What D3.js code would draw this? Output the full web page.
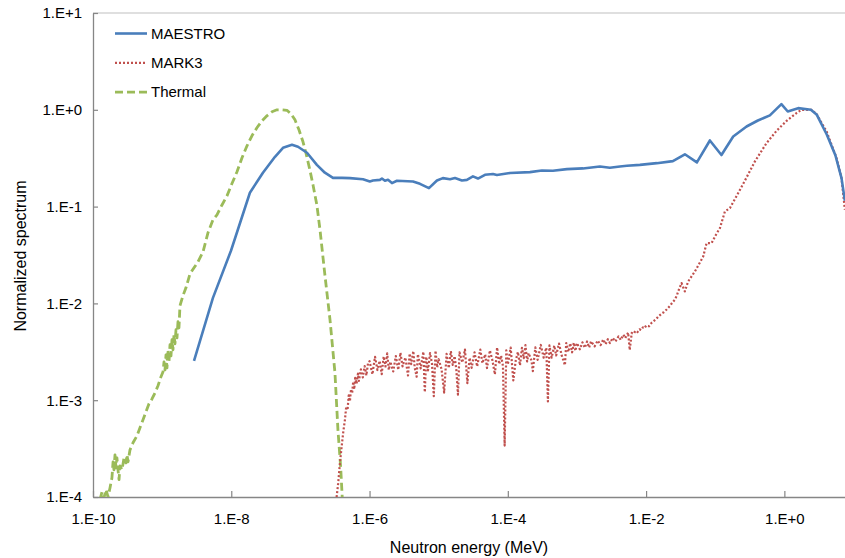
<!DOCTYPE html>
<html>
<head>
<meta charset="utf-8">
<script src="https://cdn.jsdelivr.net/npm/d3@7"></script>
<style>
  html, body { margin: 0; padding: 0; background: #fff; }
  svg { display: block; }
  text { font-family: "Liberation Sans", Arial, sans-serif; fill: #000; }
</style>
</head>
<body>
<svg id="chart" width="845" height="558"></svg>
<script>
// Axis ticks (energy in MeV, normalized spectrum)
const xTickValues = [1e-10, 1e-8, 1e-6, 1e-4, 1e-2, 1e0];
const xTickLabels = ["1.E-10", "1.E-8", "1.E-6", "1.E-4", "1.E-2", "1.E+0"];
const yTickValues = [1e-4, 1e-3, 1e-2, 1e-1, 1e0, 1e1];
const yTickLabels = ["1.E-4", "1.E-3", "1.E-2", "1.E-1", "1.E+0", "1.E+1"];

const seriesNames = ["MAESTRO", "MARK3", "Thermal"];

// MAESTRO spectrum: [energy (MeV), normalized value]
const maestro = [
  [2.89e-9, 2.55e-3], [5.43e-9, 1.14e-2], [9.9e-9, 3.5e-2], [1.86e-8, 0.139],
  [2.87e-8, 0.224], [4.29e-8, 0.327], [5.6e-8, 0.405], [7.55e-8, 0.435],
  [9.23e-8, 0.415], [1.245e-7, 0.36], [1.73e-7, 0.27], [2.26e-7, 0.224],
  [2.96e-7, 0.198], [3.99e-7, 0.198], [5.21e-7, 0.197], [8.04e-7, 0.192],
  [1.01e-6, 0.182], [1.12e-6, 0.186], [1.41e-6, 0.189], [1.51e-6, 0.195],
  [1.67e-6, 0.185], [1.85e-6, 0.189], [2.11e-6, 0.175], [2.49e-6, 0.185],
  [4.25e-6, 0.182], [5.36e-6, 0.172], [7.23e-6, 0.155], [9.44e-6, 0.186],
  [1.15e-5, 0.197], [1.46e-5, 0.192], [1.72e-5, 0.197], [2.17e-5, 0.186],
  [2.56e-5, 0.189], [3.13e-5, 0.205], [3.70e-5, 0.195], [4.67e-5, 0.213],
  [6.1e-5, 0.217], [6.95e-5, 0.212], [1.07e-4, 0.222], [2.09e-4, 0.227],
  [3.11e-4, 0.236], [4.49e-4, 0.235], [7.16e-4, 0.244], [1.22e-3, 0.248],
  [2.15e-3, 0.26], [2.99e-3, 0.252], [4.18e-3, 0.26], [5.27e-3, 0.264],
  [8.13e-3, 0.27], [1.43e-2, 0.281], [2.44e-2, 0.295], [3.64e-2, 0.347],
  [5.43e-2, 0.286], [8.37e-2, 0.482], [0.123, 0.341], [0.182, 0.53],
  [0.284, 0.672], [0.414, 0.775], [0.617, 0.877], [0.906, 1.145],
  [1.12, 0.96], [1.58, 1.04], [2.42, 1.0], [2.95, 0.888],
  [4.12, 0.552], [5.47, 0.339], [6.71, 0.197], [7.5, 0.115]
];

// MARK3 spectrum: [energy (MeV), normalized value]
const mark3 = [
  [3.34e-7, 1.0e-4], [3.52e-7, 1.39e-4], [3.73e-7, 2.24e-4], [3.95e-7, 3.33e-4],
  [4.17e-7, 4.72e-4], [4.41e-7, 6.3e-4], [4.6e-7, 8.6e-4], [4.8e-7, 7.9e-4],
  [5.0e-7, 1.12e-3], [5.2e-7, 0.98e-3], [5.4e-7, 1.30e-3], [5.6e-7, 1.18e-3],
  [5.8e-7, 1.55e-3], [6.0e-7, 1.30e-3], [6.2e-7, 1.70e-3], [6.5e-7, 1.48e-3],
  [6.8e-7, 1.88e-3], [7.0e-7, 1.58e-3], [7.5e-7, 2.08e-3], [8.0e-7, 1.72e-3],
  [8.5e-7, 2.25e-3], [9.0e-7, 1.80e-3], [9.5e-7, 2.40e-3],
  [1.0e-6, 2.53e-3], [1.1e-6, 1.85e-3], [1.2e-6, 2.81e-3], [1.3e-6, 2.05e-3],
  [1.4e-6, 2.55e-3], [1.5e-6, 1.86e-3], [1.6e-6, 2.83e-3], [1.7e-6, 2.23e-3],
  [1.8e-6, 3.04e-3], [1.9e-6, 2.05e-3], [2.0e-6, 2.50e-3], [2.2e-6, 1.98e-3],
  [2.4e-6, 2.86e-3], [2.6e-6, 2.06e-3], [2.8e-6, 3.09e-3], [3.0e-6, 2.24e-3],
  [3.3e-6, 2.76e-3], [3.6e-6, 1.80e-3], [3.8e-6, 3.03e-3], [4.0e-6, 2.36e-3],
  [4.3e-6, 3.22e-3], [4.5e-6, 2.17e-3], [4.8e-6, 1.75e-3], [5.0e-6, 2.99e-3],
  [5.5e-6, 2.13e-3], [6.0e-6, 3.17e-3], [6.3e-6, 1.21e-3], [6.6e-6, 2.81e-3],
  [7.0e-6, 2.03e-3], [7.5e-6, 3.07e-3], [8.0e-6, 2.39e-3], [8.5e-6, 1.10e-3],
  [9.0e-6, 3.25e-3], [9.5e-6, 2.18e-3], [1.0e-5, 2.65e-3], [1.1e-5, 2.09e-3],
  [1.2e-5, 1.20e-3], [1.3e-5, 3.01e-3], [1.4e-5, 2.15e-3], [1.5e-5, 3.21e-3],
  [1.6e-5, 2.31e-3], [1.7e-5, 2.85e-3], [1.8e-5, 2.06e-3], [1.9e-5, 1.14e-3],
  [2.0e-5, 3.13e-3], [2.2e-5, 2.45e-3], [2.4e-5, 3.34e-3], [2.6e-5, 1.50e-3],
  [2.8e-5, 2.74e-3], [3.0e-5, 2.16e-3], [3.3e-5, 3.12e-3], [3.6e-5, 2.23e-3],
  [4.0e-5, 3.33e-3], [4.3e-5, 2.41e-3], [4.7e-5, 2.97e-3], [5.0e-5, 2.15e-3],
  [5.5e-5, 3.27e-3], [6.0e-5, 2.56e-3], [6.5e-5, 1.85e-3], [7.0e-5, 3.50e-3],
  [7.5e-5, 2.36e-3], [8.0e-5, 2.88e-3], [8.5e-5, 2.26e-3], [9.0e-5, 3.4e-4],
  [9.5e-5, 3.27e-3], [1.0e-4, 2.34e-3], [1.1e-4, 3.50e-3], [1.2e-4, 1.60e-3],
  [1.3e-4, 2.55e-3], [1.4e-4, 3.15e-3], [1.5e-4, 2.29e-3], [1.6e-4, 3.48e-3],
  [1.7e-4, 2.72e-3], [1.8e-4, 3.71e-3], [1.9e-4, 2.51e-3], [2.0e-4, 3.06e-3],
  [2.2e-4, 2.57e-3], [2.3e-4, 2.00e-3], [2.5e-4, 3.51e-3], [2.7e-4, 2.61e-3],
  [3.0e-4, 3.72e-3], [3.3e-4, 2.75e-3], [3.6e-4, 3.48e-3], [3.8e-4, 0.97e-3],
  [4.0e-4, 3.68e-3], [4.3e-4, 2.75e-3], [4.7e-4, 3.66e-3], [5.0e-4, 2.90e-3],
  [5.5e-4, 3.85e-3], [6.0e-4, 2.92e-3], [6.7e-4, 2.30e-3], [7.0e-4, 3.90e-3],
  [7.5e-4, 3.15e-3], [8.0e-4, 3.87e-3], [8.5e-4, 3.12e-3], [9.0e-4, 3.93e-3],
  [9.5e-4, 3.23e-3], [1.0e-3, 3.89e-3], [1.1e-3, 3.36e-3], [1.2e-3, 3.96e-3],
  [1.3e-3, 3.48e-3], [1.4e-3, 4.04e-3], [1.5e-3, 3.50e-3], [1.6e-3, 4.06e-3],
  [1.8e-3, 3.60e-3], [2.0e-3, 4.13e-3], [2.2e-3, 3.71e-3], [2.4e-3, 4.24e-3],
  [2.6e-3, 3.79e-3], [2.8e-3, 4.27e-3], [3.0e-3, 3.90e-3], [3.3e-3, 4.39e-3],
  [3.6e-3, 4.04e-3], [4.0e-3, 4.57e-3], [4.3e-3, 4.20e-3], [4.7e-3, 4.75e-3],
  [5.0e-3, 4.37e-3], [5.5e-3, 4.99e-3], [5.8e-3, 3.30e-3], [6.2e-3, 4.95e-3],
  [6.6e-3, 4.85e-3], [7.0e-3, 5.2e-3], [7.5e-3, 5.05e-3], [8.0e-3, 5.4e-3],
  [8.5e-3, 5.3e-3], [9.0e-3, 5.65e-3], [9.5e-3, 5.55e-3], [1.0e-2, 5.9e-3],
  [1.1e-2, 5.8e-3], [1.2e-2, 6.3e-3], [1.3e-2, 6.6e-3], [1.4e-2, 6.9e-3],
  [1.5e-2, 7.3e-3], [1.6e-2, 7.6e-3], [1.7e-2, 7.9e-3], [1.8e-2, 8.1e-3],
  [2.0e-2, 8.7e-3], [2.2e-2, 9.4e-3], [2.4e-2, 1.02e-2], [2.6e-2, 1.09e-2],
  [2.8e-2, 1.22e-2], [2.91e-2, 1.33e-2], [3.26e-2, 1.62e-2], [3.63e-2, 1.33e-2],
  [4.05e-2, 1.68e-2], [5.08e-2, 2.14e-2], [6.7e-2, 3.05e-2], [7.5e-2, 4.2e-2],
  [8.86e-2, 4.2e-2], [0.105, 5.3e-2], [0.117, 6.0e-2], [0.138, 8.9e-2],
  [0.163, 9.65e-2], [0.215, 0.138], [0.284, 0.200], [0.374, 0.292],
  [0.552, 0.453], [0.771, 0.607], [1.08, 0.770], [1.50, 0.925],
  [1.77, 1.0], [2.47, 1.0], [2.92, 0.903], [4.08, 0.597],
  [5.69, 0.317], [6.71, 0.197], [7.5, 0.093]
];

// Thermal (Maxwellian-like) spectrum: [energy (MeV), normalized value]
const thermal = [
  [1.26e-10, 9.35e-5], [1.35e-10, 1.13e-4], [1.44e-10, 9.8e-5], [1.54e-10, 1.19e-4],
  [1.65e-10, 1.0e-4], [1.76e-10, 1.24e-4], [1.88e-10, 1.58e-4], [1.95e-10, 2.31e-4],
  [2.01e-10, 1.91e-4], [2.08e-10, 2.73e-4], [2.15e-10, 2.0e-4], [2.22e-10, 2.54e-4],
  [2.30e-10, 1.91e-4], [2.38e-10, 1.51e-4], [2.46e-10, 2.10e-4], [2.63e-10, 1.91e-4],
  [2.81e-10, 2.54e-4], [3.00e-10, 2.25e-4], [3.10e-10, 2.73e-4], [3.21e-10, 2.31e-4],
  [3.43e-10, 3.07e-4], [3.79e-10, 3.63e-4], [4.33e-10, 4.29e-4], [4.78e-10, 5.19e-4],
  [5.29e-10, 6.28e-4], [5.84e-10, 7.59e-4], [6.45e-10, 9.18e-4], [7.13e-10, 1.03e-3],
  [7.88e-10, 1.19e-3], [8.71e-10, 1.41e-3], [9.63e-10, 1.75e-3], [1.03e-9, 1.97e-3],
  [1.064e-9, 2.49e-3], [1.10e-9, 2.06e-3], [1.137e-9, 2.94e-3], [1.175e-9, 2.16e-3],
  [1.215e-9, 3.32e-3], [1.256e-9, 2.49e-3], [1.299e-9, 3.74e-3], [1.343e-9, 2.87e-3],
  [1.388e-9, 4.21e-3], [1.435e-9, 3.32e-3], [1.484e-9, 4.74e-3], [1.534e-9, 3.83e-3],
  [1.586e-9, 5.34e-3], [1.64e-9, 4.41e-3], [1.695e-9, 6.46e-3], [1.752e-9, 5.60e-3],
  [1.81e-9, 9.45e-3], [2.0e-9, 1.2e-2], [2.21e-9, 1.45e-2], [2.53e-9, 2.02e-2],
  [2.89e-9, 2.33e-2], [3.30e-9, 2.69e-2], [3.90e-9, 3.41e-2], [4.60e-9, 5.36e-2],
  [5.44e-9, 7.31e-2], [6.21e-9, 8.23e-2], [7.34e-9, 0.104], [8.67e-9, 0.129],
  [1.02e-8, 0.172], [1.21e-8, 0.229], [1.43e-8, 0.319], [1.69e-8, 0.425],
  [1.99e-8, 0.539], [2.35e-8, 0.652], [2.78e-8, 0.769], [3.28e-8, 0.867],
  [3.88e-8, 0.954], [4.58e-8, 1.0], [5.41e-8, 1.0], [6.39e-8, 0.988],
  [7.30e-8, 0.909], [8.34e-8, 0.788], [9.53e-8, 0.622], [1.09e-7, 0.467],
  [1.20e-7, 0.360], [1.37e-7, 0.240], [1.52e-7, 0.168], [1.73e-7, 0.104],
  [1.92e-7, 0.0576], [2.26e-7, 0.0197], [2.68e-7, 6.77e-3], [3.16e-7, 1.92e-3],
  [3.49e-7, 4.94e-4], [3.82e-7, 2.05e-4], [4.03e-7, 9.8e-5]
];

const svg = d3.select("#chart");
const plot = { left: 93, right: 853.5, top: 13, bottom: 497 };

const x = d3.scaleLog().domain([1e-10, 1e1]).range([plot.left, plot.right]);
const y = d3.scaleLog().domain([1e-4, 1e1]).range([plot.bottom, plot.top]);

svg.append("defs").append("clipPath").attr("id", "plot-clip")
  .append("rect")
  .attr("x", plot.left).attr("y", plot.top)
  .attr("width", plot.right - plot.left).attr("height", plot.bottom - plot.top);

// plot area frame (top / right edges)
svg.append("line")
  .attr("x1", plot.left).attr("x2", plot.right)
  .attr("y1", plot.top).attr("y2", plot.top)
  .attr("stroke", "#bfbfbf").attr("stroke-width", 1.2);
svg.append("line")
  .attr("x1", plot.right).attr("x2", plot.right)
  .attr("y1", plot.top).attr("y2", plot.bottom)
  .attr("stroke", "#bfbfbf").attr("stroke-width", 1.2);

const axisColor = "#868686";

const xAxis = d3.axisBottom(x)
  .tickValues(xTickValues)
  .tickFormat((d, i) => xTickLabels[i])
  .tickSizeInner(-6).tickSizeOuter(0).tickPadding(16);
const gx = svg.append("g")
  .attr("transform", `translate(0,${plot.bottom})`)
  .call(xAxis);

const yAxis = d3.axisLeft(y)
  .tickValues(yTickValues)
  .tickFormat((d, i) => yTickLabels[i])
  .tickSizeInner(-5).tickSizeOuter(0).tickPadding(11);
const gy = svg.append("g")
  .attr("transform", `translate(${plot.left},0)`)
  .call(yAxis);

[gx, gy].forEach(g => {
  g.select(".domain").attr("stroke", axisColor).attr("stroke-width", 1.3);
  g.selectAll(".tick line").attr("stroke", axisColor).attr("stroke-width", 1.2);
  g.selectAll(".tick text").attr("font-size", 15).attr("fill", "#000")
    .attr("font-family", '"Liberation Sans", Arial, sans-serif');
});

const line = d3.line()
  .x(d => x(d[0]))
  .y(d => y(d[1]));

const styles = {
  MAESTRO: { color: "#4a7ebb", width: 2.6, dash: null },
  MARK3:   { color: "#c0504d", width: 2.2, dash: "2 2" },
  Thermal: { color: "#9bbb59", width: 2.8, dash: "8 4" }
};
const seriesData = { MAESTRO: maestro, MARK3: mark3, Thermal: thermal };

const gLines = svg.append("g").attr("clip-path", "url(#plot-clip)");
["Thermal", "MARK3", "MAESTRO"].forEach(name => {
  const s = styles[name];
  gLines.append("path")
    .datum(seriesData[name])
    .attr("d", line)
    .attr("fill", "none")
    .attr("stroke", s.color)
    .attr("stroke-width", s.width)
    .attr("stroke-dasharray", s.dash)
    .attr("stroke-linejoin", "round");
});

// legend
const legend = svg.append("g");
seriesNames.forEach((name, i) => {
  const s = styles[name];
  const cy = 33.5 + i * 29.3;
  legend.append("line")
    .attr("x1", 115).attr("x2", 147)
    .attr("y1", cy).attr("y2", cy)
    .attr("stroke", s.color)
    .attr("stroke-width", s.width)
    .attr("stroke-dasharray", s.dash);
  legend.append("text")
    .attr("x", 151).attr("y", cy)
    .attr("dy", "0.35em")
    .attr("font-size", 15)
    .text(name);
});

// axis titles
svg.append("text")
  .attr("x", 469).attr("y", 553)
  .attr("text-anchor", "middle")
  .attr("font-size", 16)
  .text("Neutron energy (MeV)");

svg.append("text")
  .attr("transform", "translate(26,256) rotate(-90)")
  .attr("text-anchor", "middle")
  .attr("font-size", 16)
  .text("Normalized spectrum");
</script>
</body>
</html>
